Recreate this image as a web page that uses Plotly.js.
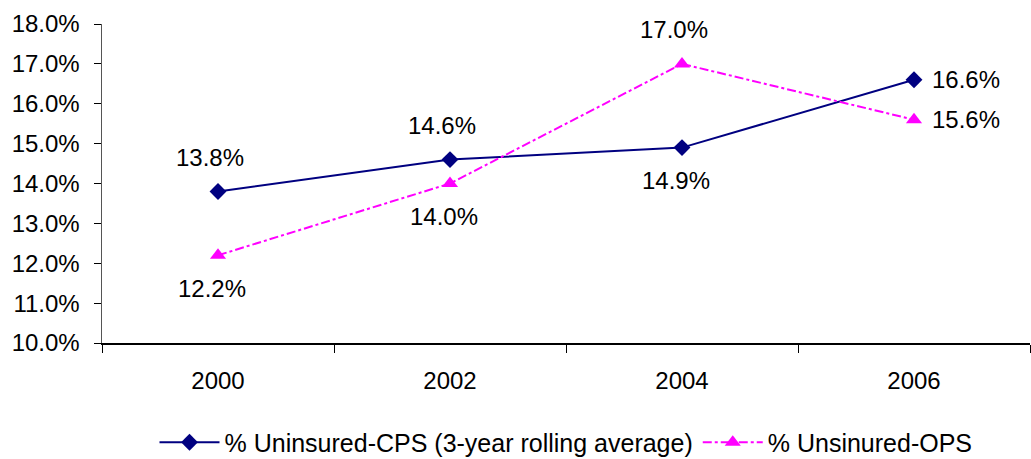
<!DOCTYPE html>
<html><head><meta charset="utf-8">
<script src="https://cdn.plot.ly/plotly-3.0.1.min.js"></script>
<style>html,body{margin:0;padding:0;background:#fff}#chart{width:1031px;height:459px}</style>
</head><body><div id="chart"></div>
<script>
const years = ['2000','2002','2004','2006'];
const cpsValues = [13.8, 14.6, 14.9, 16.6];
const opsValues = [12.2, 14.0, 17.0, 15.6];
const cpsName = '% Uninsured-CPS (3-year rolling average)';
const opsName = '% Unsinured-OPS';
const cpsLabelPos = ['above','above','below','right'];
const opsLabelPos = ['below','below','above','right'];

const font = {family: 'Liberation Sans, Arial, sans-serif', size: 24, color: '#000'};

function makeAnn(vals, pos) {
  return vals.map((v, i) => {
    const p = pos[i];
    const a = {x: i, y: v, xref: 'x', yref: 'y', text: v.toFixed(1) + '%',
      showarrow: false, font: font};
    if (p === 'above') { a.yshift = 34; a.xshift = -8; }
    else if (p === 'below') { a.yshift = -33; a.xshift = -6; }
    else { a.xanchor = 'left'; a.xshift = 16; }
    return a;
  });
}

const traces = [
  {x: years, y: cpsValues, name: cpsName, type: 'scatter', mode: 'lines+markers',
   line: {color: '#000080', width: 2},
   marker: {symbol: 'diamond', size: 13, color: '#000080'}},
  {x: years, y: opsValues, name: opsName, type: 'scatter', mode: 'lines+markers',
   line: {color: '#FF00FF', width: 2, dash: 'dashdot'},
   marker: {symbol: 'triangle-up', size: 14, color: '#FF00FF'}}
];

const layout = {
  width: 1031, height: 459,
  margin: {l: 102, r: 1, t: 24, b: 116, autoexpand: false},
  paper_bgcolor: '#fff', plot_bgcolor: '#fff',
  font: font,
  showlegend: true,
  legend: {orientation: 'h', x: 0.5, xanchor: 'center', y: -0.24, yanchor: 'top',
           font: {family: font.family, size: 25, color: '#000'}, itemwidth: 60},
  xaxis: {type: 'category', range: [-0.5, 3.5], tickson: 'boundaries',
          ticks: 'outside', ticklen: 8, tickcolor: '#000', showline: true, linecolor: '#000',
          linewidth: 1.5, showgrid: false, zeroline: false, ticklabelstandoff: 16,
          tickfont: font},
  yaxis: {range: [10, 18], dtick: 1, tick0: 10, ticks: 'outside', ticklen: 7,
          tickcolor: '#000', showline: true, linecolor: '#555', linewidth: 1.5,
          showgrid: false, zeroline: false, ticksuffix: '%', tickformat: '.1f',
          ticklabelstandoff: 9, tickfont: font},
  annotations: makeAnn(cpsValues, cpsLabelPos).concat(makeAnn(opsValues, opsLabelPos))
};

Plotly.newPlot('chart', traces, layout, {displayModeBar: false, staticPlot: true});
</script></body></html>
